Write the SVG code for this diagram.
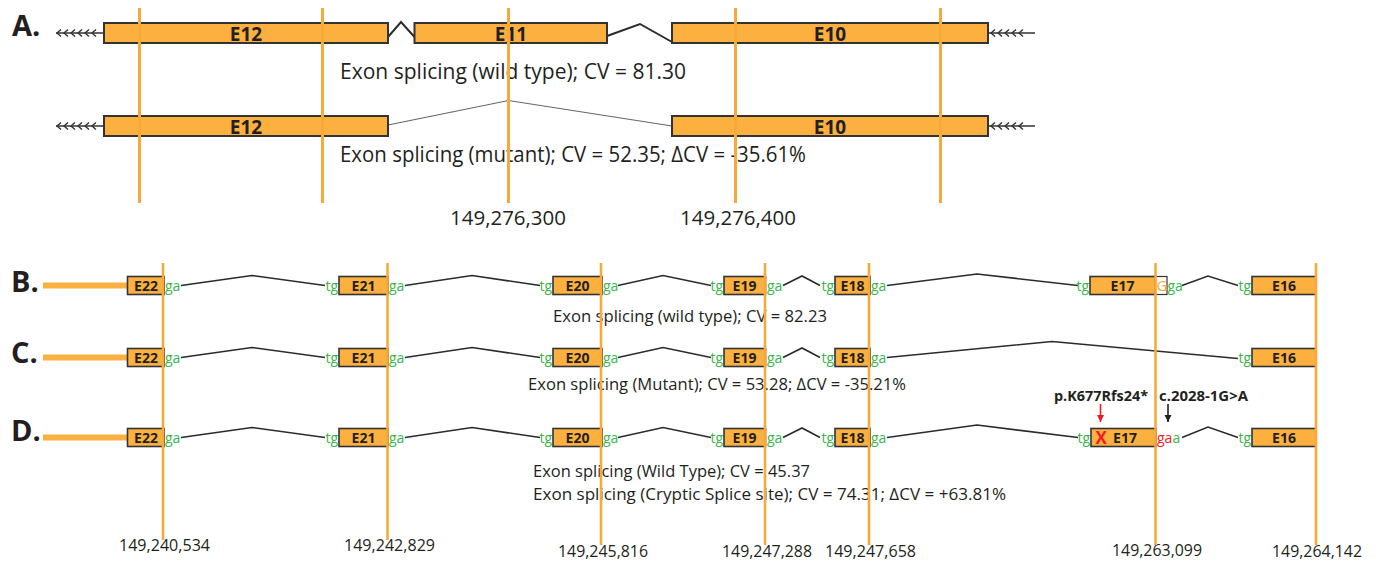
<svg xmlns="http://www.w3.org/2000/svg" width="1376" height="561" viewBox="0 0 1376 561">
<style>
.bg{fill:#ffffff}
.exA{fill:#FBB040;stroke:#333333;stroke-width:2}
.exB{fill:#FBB040;stroke:#333333;stroke-width:1.6}
.wb{fill:#ffffff;stroke:#333333;stroke-width:1.2}
.vl{stroke:#F9A93B;stroke-width:3;fill:none}
.vl2{stroke:#F9A93B;stroke-width:2.6;fill:none}
.intA{fill:none;stroke:#2b2b2b;stroke-width:2}
.intA2{fill:none;stroke:#666666;stroke-width:1.1}
.intB{fill:none;stroke:#2b2b2b;stroke-width:1.6}
.chev{fill:none;stroke:#333333;stroke-width:1.4}
.bar{fill:#FBB040}
text{font-family:"Open Sans","Liberation Sans",sans-serif;fill:#231F20}
.lblA{font-size:19px;font-weight:bold;text-anchor:middle}
.lblB{font-size:14px;font-weight:bold;text-anchor:middle}
.sec{font-size:29px;font-weight:bold}
.capA{font-size:21px}
.posA{font-size:20px}
.capB{font-size:17px}
.posB{font-size:17px}
.g{font-size:14px;fill:#39B54A}
.ge{font-size:14px;fill:#39B54A;text-anchor:end}
.r{fill:#ED1C24}
.ann{font-size:14px;font-weight:bold}
</style>
<defs>
<marker id="hRed" viewBox="0 0 10 10" refX="10" refY="5" markerWidth="7" markerHeight="9" markerUnits="userSpaceOnUse" orient="auto">
<path d="M0,0 L10,5 L0,10 z" fill="#ED1C24"/>
</marker>
<marker id="hBlk" viewBox="0 0 10 10" refX="10" refY="5" markerWidth="7" markerHeight="9" markerUnits="userSpaceOnUse" orient="auto">
<path d="M0,0 L10,5 L0,10 z" fill="#231F20"/>
</marker>
</defs>
<rect class="bg" x="0" y="0" width="1376" height="561"/>

<g id="labels">
<text class="sec" x="12" y="36">A.</text>
<text class="sec" x="11" y="292">B.</text>
<text class="sec" x="11" y="363">C.</text>
<text class="sec" x="11" y="441">D.</text>
</g>

<g id="connectors">
<g id="A-arrows">
<line class="chev" x1="56" y1="33" x2="104" y2="33"/>
<polyline class="chev" points="61,29.5 57,33 61,36.5"/>
<polyline class="chev" points="68,29.5 64,33 68,36.5"/>
<polyline class="chev" points="75,29.5 71,33 75,36.5"/>
<polyline class="chev" points="82,29.5 78,33 82,36.5"/>
<polyline class="chev" points="89,29.5 85,33 89,36.5"/>
<polyline class="chev" points="96,29.5 92,33 96,36.5"/>
<line class="chev" x1="988" y1="33" x2="1035" y2="33"/>
<polyline class="chev" points="995,29.5 991,33 995,36.5"/>
<polyline class="chev" points="1002,29.5 998,33 1002,36.5"/>
<polyline class="chev" points="1009,29.5 1005,33 1009,36.5"/>
<polyline class="chev" points="1016,29.5 1012,33 1016,36.5"/>
<polyline class="chev" points="1023,29.5 1019,33 1023,36.5"/>
<line class="chev" x1="56" y1="126" x2="104" y2="126"/>
<polyline class="chev" points="61,122.5 57,126 61,129.5"/>
<polyline class="chev" points="68,122.5 64,126 68,129.5"/>
<polyline class="chev" points="75,122.5 71,126 75,129.5"/>
<polyline class="chev" points="82,122.5 78,126 82,129.5"/>
<polyline class="chev" points="89,122.5 85,126 89,129.5"/>
<polyline class="chev" points="96,122.5 92,126 96,129.5"/>
<line class="chev" x1="988" y1="126" x2="1035" y2="126"/>
<polyline class="chev" points="995,122.5 991,126 995,129.5"/>
<polyline class="chev" points="1002,122.5 998,126 1002,129.5"/>
<polyline class="chev" points="1009,122.5 1005,126 1009,129.5"/>
<polyline class="chev" points="1016,122.5 1012,126 1016,129.5"/>
<polyline class="chev" points="1023,122.5 1019,126 1023,129.5"/>
</g>
<polyline class="intA" points="388,37 401,22 414.5,37"/>
<polyline class="intA" points="607,36 640,24 672,42"/>
<polyline class="intA2" points="388,125 508.5,100.5 672,126"/>

<polyline class="intB" points="181,285.5 252,275.5 325,285.5"/>
<polyline class="intB" points="405,285.5 472,275.5 540,285.5"/>
<polyline class="intB" points="618,285.5 663,275.5 711,285.5"/>
<polyline class="intB" points="783,285.5 802,276 820,285.5"/>
<polyline class="intB" points="887,285.5 977,274 1078,285.5"/>
<polyline class="intB" points="1182,285.5 1208,276 1238,285.5"/>
<polyline class="intB" points="181,357.5 252,347.5 325,357.5"/>
<polyline class="intB" points="405,357.5 472,347.5 540,357.5"/>
<polyline class="intB" points="618,357.5 663,347.5 711,357.5"/>
<polyline class="intB" points="783,357.5 802,348 820,357.5"/>
<polyline class="intB" points="887,357.5 1052,341.5 1238,358.5"/>
<polyline class="intB" points="181,437.5 252,427.5 325,437.5"/>
<polyline class="intB" points="405,437.5 472,427.5 540,437.5"/>
<polyline class="intB" points="618,437.5 663,427.5 711,437.5"/>
<polyline class="intB" points="783,437.5 802,428 820,437.5"/>
<polyline class="intB" points="887,437.5 977,425 1078,437.5"/>
<polyline class="intB" points="1182,437.5 1208,427 1238,437.5"/>
<line x1="1100.5" y1="404" x2="1100.5" y2="422" stroke="#ED1C24" stroke-width="1.6" marker-end="url(#hRed)"/>
<line x1="1168" y1="404" x2="1168" y2="422" stroke="#231F20" stroke-width="1.6" marker-end="url(#hBlk)"/>
</g>

<g id="A-wt-E12"><rect class="exA" x="104" y="23" width="284" height="20"/><text class="lblA" x="246" y="40.5">E12</text></g>
<g id="A-wt-E11"><rect class="exA" x="414.5" y="23" width="192.5" height="20"/><text class="lblA" x="511" y="40.5">E11</text></g>
<g id="A-wt-E10"><rect class="exA" x="672" y="23" width="316" height="20"/><text class="lblA" x="830" y="40.5">E10</text></g>
<g id="A-mut-E12"><rect class="exA" x="104" y="116" width="284" height="20"/><text class="lblA" x="246" y="133.5">E12</text></g>
<g id="A-mut-E10"><rect class="exA" x="672" y="116" width="316" height="20"/><text class="lblA" x="830" y="133.5">E10</text></g>

<g id="A-captions">
<text class="capA" x="340" y="78.5" textLength="346" lengthAdjust="spacingAndGlyphs">Exon splicing (wild type); CV = 81.30</text>
<text class="capA" x="340" y="162" textLength="466" lengthAdjust="spacingAndGlyphs">Exon splicing (mutant); CV = 52.35; ΔCV = -35.61%</text>
<text class="posA" x="450" y="225" textLength="116" lengthAdjust="spacingAndGlyphs">149,276,300</text>
<text class="posA" x="680" y="225" textLength="116" lengthAdjust="spacingAndGlyphs">149,276,400</text>
</g>

<g id="bars">
<rect class="bar" x="43" y="282.5" width="85" height="6"/>
<rect class="bar" x="43" y="354.5" width="85" height="6"/>
<rect class="bar" x="43" y="434.5" width="85" height="6"/>
</g>

<g id="B-E22"><rect class="exB" x="127.5" y="276.5" width="36.5" height="18"/><text class="lblB" x="146" y="290.5">E22</text><text class="g" x="165" y="290.5">ga</text></g>
<g id="B-E21"><text class="ge" x="338" y="290.5">tg</text><rect class="exB" x="339" y="276.5" width="49" height="18"/><text class="lblB" x="363.5" y="290.5">E21</text><text class="g" x="389" y="290.5">ga</text></g>
<g id="B-E20"><text class="ge" x="552" y="290.5">tg</text><rect class="exB" x="553" y="276.5" width="49" height="18"/><text class="lblB" x="577.5" y="290.5">E20</text><text class="g" x="603" y="290.5">ga</text></g>
<g id="B-E19"><text class="ge" x="723" y="290.5">tg</text><rect class="exB" x="724" y="276.5" width="41.5" height="18"/><text class="lblB" x="744.5" y="290.5">E19</text><text class="g" x="767" y="290.5">ga</text></g>
<g id="B-E18"><text class="ge" x="834" y="290.5">tg</text><rect class="exB" x="835" y="276.5" width="35" height="18"/><text class="lblB" x="852.5" y="290.5">E18</text><text class="g" x="871" y="290.5">ga</text></g>
<g id="B-E17"><text class="ge" x="1089" y="290.5">tg</text><rect class="exB" x="1090" y="276.5" width="65.5" height="18"/><text class="lblB" x="1122.5" y="290.5">E17</text><rect class="wb" x="1155.5" y="276.5" width="11.5" height="18"/><text x="1156.5" y="291" style="font-size:15px;fill:#F7A541">G</text><text class="g" x="1167.5" y="290.5">ga</text></g>
<g id="B-E16"><text class="ge" x="1251" y="290.5">tg</text><rect class="exB" x="1252" y="276.5" width="64" height="18"/><text class="lblB" x="1284" y="290.5">E16</text></g>

<g id="C-E22"><rect class="exB" x="127.5" y="348.5" width="36.5" height="18"/><text class="lblB" x="146" y="362.5">E22</text><text class="g" x="165" y="362.5">ga</text></g>
<g id="C-E21"><text class="ge" x="338" y="362.5">tg</text><rect class="exB" x="339" y="348.5" width="49" height="18"/><text class="lblB" x="363.5" y="362.5">E21</text><text class="g" x="389" y="362.5">ga</text></g>
<g id="C-E20"><text class="ge" x="552" y="362.5">tg</text><rect class="exB" x="553" y="348.5" width="49" height="18"/><text class="lblB" x="577.5" y="362.5">E20</text><text class="g" x="603" y="362.5">ga</text></g>
<g id="C-E19"><text class="ge" x="723" y="362.5">tg</text><rect class="exB" x="724" y="348.5" width="41.5" height="18"/><text class="lblB" x="744.5" y="362.5">E19</text><text class="g" x="767" y="362.5">ga</text></g>
<g id="C-E18"><text class="ge" x="834" y="362.5">tg</text><rect class="exB" x="835" y="348.5" width="35" height="18"/><text class="lblB" x="852.5" y="362.5">E18</text><text class="g" x="871" y="362.5">ga</text></g>
<g id="C-E16"><text class="ge" x="1251" y="362.5">tg</text><rect class="exB" x="1252" y="348.5" width="64" height="18"/><text class="lblB" x="1284" y="362.5">E16</text></g>

<g id="D-E22"><rect class="exB" x="127.5" y="428.5" width="36.5" height="18"/><text class="lblB" x="146" y="442.5">E22</text><text class="g" x="165" y="442.5">ga</text></g>
<g id="D-E21"><text class="ge" x="338" y="442.5">tg</text><rect class="exB" x="339" y="428.5" width="49" height="18"/><text class="lblB" x="363.5" y="442.5">E21</text><text class="g" x="389" y="442.5">ga</text></g>
<g id="D-E20"><text class="ge" x="552" y="442.5">tg</text><rect class="exB" x="553" y="428.5" width="49" height="18"/><text class="lblB" x="577.5" y="442.5">E20</text><text class="g" x="603" y="442.5">ga</text></g>
<g id="D-E19"><text class="ge" x="723" y="442.5">tg</text><rect class="exB" x="724" y="428.5" width="41.5" height="18"/><text class="lblB" x="744.5" y="442.5">E19</text><text class="g" x="767" y="442.5">ga</text></g>
<g id="D-E18"><text class="ge" x="834" y="442.5">tg</text><rect class="exB" x="835" y="428.5" width="35" height="18"/><text class="lblB" x="852.5" y="442.5">E18</text><text class="g" x="871" y="442.5">ga</text></g>
<g id="D-E17"><text class="ge" x="1090" y="442.5">tg</text><rect class="exB" x="1091" y="428.5" width="65" height="18"/><text x="1095.5" y="443.5" style="font-size:17px;font-weight:bold;fill:#ED1C24">X</text><text class="lblB" x="1125" y="442.5">E17</text><text class="g" x="1157" y="442.5"><tspan class="r">ga</tspan>a</text></g>
<g id="D-E16"><text class="ge" x="1251" y="442.5">tg</text><rect class="exB" x="1252" y="428.5" width="64" height="18"/><text class="lblB" x="1284" y="442.5">E16</text></g>

<g id="annotations">
<text class="ann" x="1054" y="401" textLength="94" lengthAdjust="spacingAndGlyphs">p.K677Rfs24*</text>
<text class="ann" x="1159" y="401" textLength="89" lengthAdjust="spacingAndGlyphs">c.2028-1G&gt;A</text>
</g>

<g id="BCD-captions">
<text class="capB" x="553" y="322" textLength="274" lengthAdjust="spacingAndGlyphs">Exon splicing (wild type); CV = 82.23</text>
<text class="capB" x="528" y="389.5" textLength="378" lengthAdjust="spacingAndGlyphs">Exon splicing (Mutant); CV = 53.28; ΔCV = -35.21%</text>
<text class="capB" x="533" y="477" textLength="277" lengthAdjust="spacingAndGlyphs">Exon splicing (Wild Type); CV = 45.37</text>
<text class="capB" x="533" y="500" textLength="473" lengthAdjust="spacingAndGlyphs">Exon splicing (Cryptic Splice site); CV = 74.31; ΔCV = +63.81%</text>
</g>

<g id="positions">
<text class="posB" x="119" y="551" textLength="91" lengthAdjust="spacingAndGlyphs">149,240,534</text>
<text class="posB" x="344" y="551" textLength="91" lengthAdjust="spacingAndGlyphs">149,242,829</text>
<text class="posB" x="558" y="557" textLength="90" lengthAdjust="spacingAndGlyphs">149,245,816</text>
<text class="posB" x="722" y="557" textLength="90" lengthAdjust="spacingAndGlyphs">149,247,288</text>
<text class="posB" x="825" y="557" textLength="91" lengthAdjust="spacingAndGlyphs">149,247,658</text>
<text class="posB" x="1112" y="556" textLength="90" lengthAdjust="spacingAndGlyphs">149,263,099</text>
<text class="posB" x="1272" y="557" textLength="90" lengthAdjust="spacingAndGlyphs">149,264,142</text>
</g>

<g id="guides">
<line class="vl" x1="139.5" y1="8" x2="139.5" y2="203"/>
<line class="vl" x1="322.5" y1="8" x2="322.5" y2="203"/>
<line class="vl" x1="508.5" y1="8" x2="508.5" y2="203"/>
<line class="vl" x1="735.5" y1="8" x2="735.5" y2="203"/>
<line class="vl" x1="940.5" y1="8" x2="940.5" y2="203"/>
<line class="vl2" x1="163" y1="263" x2="163" y2="540"/>
<line class="vl2" x1="387.5" y1="263" x2="387.5" y2="540"/>
<line class="vl2" x1="601" y1="263" x2="601" y2="545"/>
<line class="vl2" x1="765" y1="263" x2="765" y2="545"/>
<line class="vl2" x1="869" y1="263" x2="869" y2="545"/>
<line class="vl2" x1="1155.5" y1="263" x2="1155.5" y2="545"/>
<line class="vl2" x1="1316" y1="263" x2="1316" y2="545"/>
</g>
</svg>
